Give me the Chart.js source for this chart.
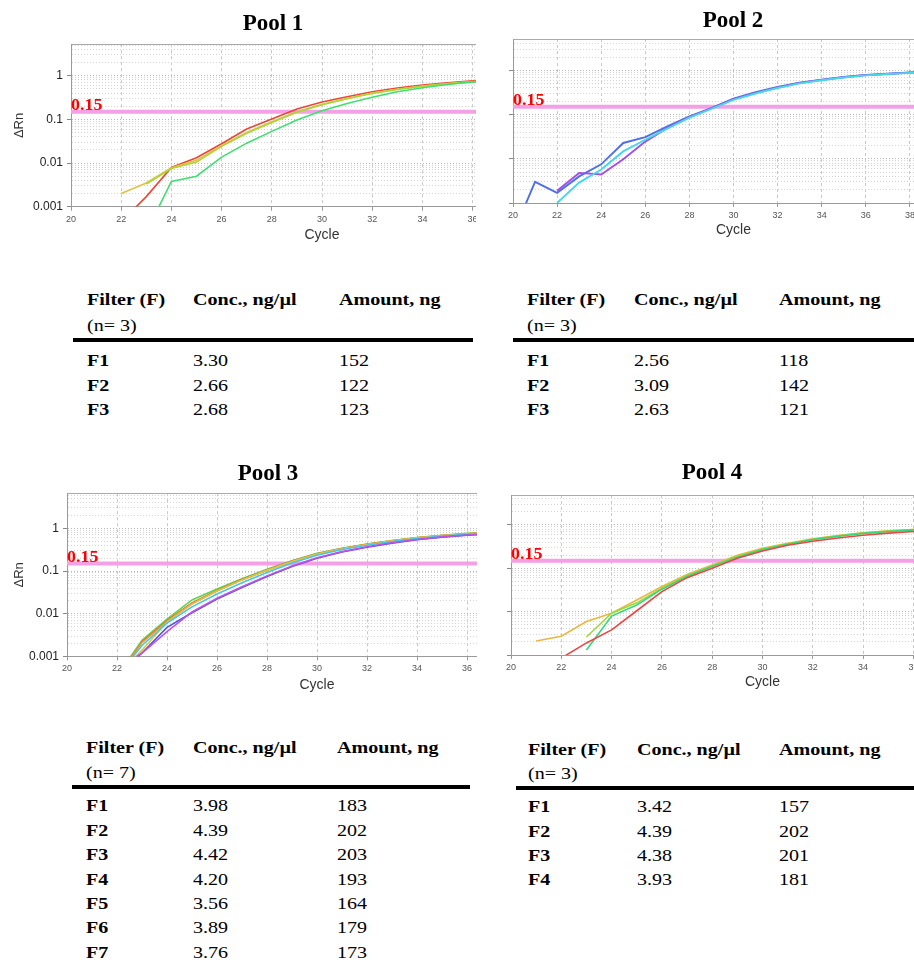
<!DOCTYPE html>
<html><head><meta charset="utf-8">
<script src="https://cdn.jsdelivr.net/npm/chart.js@4.4.1/dist/chart.umd.min.js"></script>
<style>
html,body{margin:0;padding:0;background:#fff;}
body{width:914px;height:965px;overflow:hidden;position:relative;}
.panel{position:absolute;overflow:hidden;}
.panel canvas{position:absolute;}
.title{position:absolute;width:200px;text-align:center;font:bold 23px 'Liberation Serif','Times New Roman',serif;line-height:23px;color:#000;white-space:nowrap;}
.cell{position:absolute;font:17px 'Liberation Serif','Times New Roman',serif;line-height:17px;color:#000;white-space:nowrap;transform:scaleX(1.18);transform-origin:0 0;}
.b{font-weight:bold;}
.rule{position:absolute;height:4px;background:#000;}
</style></head><body>
<script>
// ---------------- DATA ----------------
const cycles = [20,21,22,23,24,25,26,27,28,29,30,31,32,33,34,35,36,37,38,39];
const threshold = 0.15;
const thresholdText = '0.15';
const poolTitles = ['Pool 1','Pool 2','Pool 3','Pool 4'];
const xAxisTitle = 'Cycle';
const yAxisTitle = '\u0394Rn';
const xMin = 20, xMax = 40, xStep = 2;
const yDecades = [0.001, 0.01, 0.1, 1];
const yDecadeLabels = ['0.001', '0.01', '0.1', '1'];

// Pool 1 (ΔRn per cycle, starting at cycle 20)
const p1Red    = [null,null,0.00045,0.0017,0.0079,0.0132,0.0276,0.060,0.102,0.172,0.25,0.33,0.43,0.52,0.61,0.69,0.76,0.80];
const p1Yellow = [null,null,0.0020,0.0035,0.0078,0.0115,0.025,0.050,0.088,0.150,0.22,0.30,0.40,0.49,0.58,0.66,0.73,0.77];
const p1Lime   = [null,null,null,0.0033,0.0075,0.0105,0.024,0.048,0.085,0.145,0.215,0.295,0.39,0.48,0.57,0.65,0.72,0.76];
const p1Green  = [null,null,null,0.00026,0.0038,0.0050,0.0137,0.0285,0.053,0.097,0.158,0.23,0.32,0.43,0.53,0.63,0.72,0.76];

// Pool 2
const p2Blue   = [0.0002,0.003,0.0017,0.0040,0.0075,0.0228,0.031,0.054,0.091,0.14,0.23,0.32,0.42,0.53,0.62,0.71,0.79,0.84,0.90,0.93];
const p2Purple = [null,null,0.0019,0.0048,0.0044,0.0098,0.0245,0.050,0.088,0.14,0.225,0.31,0.41,0.52,0.61,0.70,0.78,0.83,0.89,0.92];
const p2Cyan   = [null,null,0.0010,0.0029,0.0057,0.0147,0.027,0.048,0.085,0.135,0.215,0.30,0.40,0.51,0.60,0.69,0.77,0.83,0.88,0.91];

// Pool 3
const p3Green  = [null,null,0.00034,0.0024,0.0075,0.021,0.038,0.066,0.11,0.175,0.26,0.34,0.43,0.52,0.61,0.69,0.77,0.82];
const p3Red    = [null,null,0.00031,0.0022,0.0069,0.0180,0.035,0.063,0.106,0.171,0.255,0.335,0.425,0.51,0.60,0.68,0.75,0.80];
const p3Orange = [null,null,0.00032,0.0021,0.0066,0.0172,0.034,0.062,0.104,0.168,0.25,0.33,0.42,0.50,0.59,0.67,0.74,0.79];
const p3Yellow = [null,null,0.00036,0.0014,0.0064,0.0168,0.034,0.062,0.104,0.168,0.25,0.33,0.42,0.51,0.60,0.68,0.75,0.80];
const p3Cyan   = [null,null,0.00034,0.0018,0.0060,0.0145,0.029,0.053,0.092,0.155,0.235,0.32,0.40,0.49,0.58,0.66,0.73,0.78];
const p3Blue   = [null,null,0.00035,0.0012,0.0048,0.0105,0.022,0.041,0.074,0.128,0.20,0.28,0.36,0.45,0.54,0.62,0.69,0.74];
const p3Purple = [null,null,0.00048,0.0012,0.0038,0.0110,0.023,0.043,0.077,0.132,0.205,0.285,0.37,0.46,0.55,0.63,0.70,0.75];

// Pool 4
const p4Yellow = [null,0.0021,0.0027,0.0059,0.0092,0.0186,0.038,0.072,0.12,0.20,0.29,0.38,0.48,0.57,0.66,0.73,0.79,0.83];
const p4Lime   = [null,null,null,0.0026,0.0092,0.016,0.035,0.068,0.115,0.19,0.28,0.37,0.47,0.56,0.65,0.72,0.78,0.82];
const p4Green  = [null,null,null,0.0013,0.0079,0.0143,0.033,0.065,0.11,0.18,0.27,0.36,0.46,0.55,0.64,0.71,0.77,0.81];
const p4Red    = [null,null,0.00085,0.0019,0.0038,0.0105,0.029,0.061,0.10,0.17,0.25,0.34,0.42,0.50,0.58,0.65,0.71,0.76];

// Tables
const tableHeaders = ['Filter (F)', 'Conc., ng/\u00b5l', 'Amount, ng'];
const p1N = 3;
const p1Filters = ['F1','F2','F3'];
const p1Conc = [3.30, 2.66, 2.68];
const p1Amount = [152, 122, 123];
const p2N = 3;
const p2Filters = ['F1','F2','F3'];
const p2Conc = [2.56, 3.09, 2.63];
const p2Amount = [118, 142, 121];
const p3N = 7;
const p3Filters = ['F1','F2','F3','F4','F5','F6','F7'];
const p3Conc = [3.98, 4.39, 4.42, 4.20, 3.56, 3.89, 3.76];
const p3Amount = [183, 202, 203, 193, 164, 179, 173];
const p4N = 3;
const p4Filters = ['F1','F2','F3','F4'];
const p4Conc = [3.42, 4.39, 4.38, 3.93];
const p4Amount = [157, 202, 201, 181];

// ---------------- RENDERING ----------------
function isDecade(v) {
  const l = Math.log10(v);
  return Math.abs(l - Math.round(l)) < 1e-6;
}
function gridTickValues(yMax) {
  const out = [];
  yDecades.forEach(d => { for (let m = 1; m <= 9; m++) { const v = +(d * m).toPrecision(6); if (v <= yMax) out.push(v); } });
  return out;
}
function toPoints(series) {
  return cycles.map((c, i) => ({x: c, y: series[i]})).filter(p => p.y !== null && p.y !== undefined);
}

const thresholdLabelPlugin = {
  id: 'thresholdLabel',
  afterDatasetsDraw(chart) {
    const {ctx, chartArea, scales} = chart;
    const y = scales.y.getPixelForValue(threshold);
    ctx.save();
    ctx.font = 'bold 16px "Liberation Serif", "Times New Roman", serif';
    ctx.fillStyle = '#ff0000';
    ctx.textAlign = 'left';
    ctx.textBaseline = 'alphabetic';
    ctx.translate(chartArea.left, y - 2);
    ctx.scale(1.12, 1);
    ctx.fillText(thresholdText, 0, 0);
    ctx.restore();
  }
};

function makePanel(cfg) {
  const panel = document.createElement('div');
  panel.className = 'panel';
  panel.style.left = cfg.clip[0] + 'px';
  panel.style.top = cfg.clip[1] + 'px';
  panel.style.width = (cfg.clip[2] - cfg.clip[0]) + 'px';
  panel.style.height = (cfg.clip[3] - cfg.clip[1]) + 'px';
  document.body.appendChild(panel);

  const padTop = 10;
  const Wy = cfg.showY ? cfg.left : 12;
  const plotW = (xMax - xMin) * cfg.px;
  const width = Math.ceil(Wy + plotW + 10);
  const padRight = width - Wy - plotW;
  const Hwanted = cfg.titleY - cfg.bottom + 8.4;
  const height = Math.ceil(padTop + (cfg.bottom - cfg.top) + Hwanted);
  const H = height - padTop - (cfg.bottom - cfg.top);
  const canvasLeft = cfg.left - Wy;
  const canvasTop = cfg.top - padTop;

  const cv = document.createElement('canvas');
  cv.width = width; cv.height = height;
  cv.style.width = width + 'px'; cv.style.height = height + 'px';
  cv.style.left = (canvasLeft - cfg.clip[0]) + 'px';
  cv.style.top = (canvasTop - cfg.clip[1]) + 'px';
  panel.appendChild(cv);

  const datasets = cfg.series.map(s => ({
    data: toPoints(s.data), borderColor: s.color, borderWidth: cfg.lw,
    pointRadius: 0, tension: 0, fill: false, order: 0
  }));
  datasets.push({
    data: [{x: xMin, y: threshold}, {x: xMax, y: threshold}],
    borderColor: '#f3a0e6', borderWidth: 4, pointRadius: 0, fill: false, order: 10
  });

  const yTicks = gridTickValues(cfg.yMax);

  new Chart(cv, {
    type: 'line',
    data: {datasets},
    plugins: [thresholdLabelPlugin],
    options: {
      responsive: false, animation: false, devicePixelRatio: 1, events: [],
      layout: {padding: {left: 0, right: padRight, top: padTop, bottom: 0}},
      plugins: {legend: {display: false}, tooltip: {enabled: false}, title: {display: false}},
      scales: {
        x: {
          type: 'linear', position: 'bottom', min: xMin, max: xMax,
          ticks: {stepSize: xStep, autoSkip: false, maxRotation: 0, color: '#555', padding: 3,
                  font: {family: "'Liberation Sans', Arial, sans-serif", size: 9}},
          grid: {color: '#c8c8c8', lineWidth: 1, tickLength: 4, tickColor: '#999'},
          border: {display: true, color: '#9a9a9a', width: 1, dash: [3, 3]},
          title: {display: true, text: xAxisTitle, color: '#333', padding: {top: 0, bottom: 0},
                  font: {family: "'Liberation Sans', Arial, sans-serif", size: 14}},
          afterFit(s) { s.height = H; }
        },
        xTop: {
          type: 'linear', position: 'top', min: xMin, max: xMax,
          ticks: {display: false}, grid: {display: false, drawTicks: false},
          border: {display: true, color: '#aaaaaa', width: 1},
          afterFit(s) { s.height = 0; }
        },
        y: {
          type: 'logarithmic', position: 'left', min: yDecades[0], max: cfg.yMax,
          afterBuildTicks(s) { s.ticks = yTicks.map(v => ({value: v})); },
          ticks: {
            display: cfg.showY, autoSkip: false, color: '#222', padding: 4,
            font: {family: "'Liberation Sans', Arial, sans-serif", size: 12},
            callback(v) {
              const i = yDecades.findIndex(d => Math.abs(d - v) / d < 1e-6);
              return i >= 0 ? yDecadeLabels[i] : '';
            }
          },
          grid: {
            lineWidth: 1, tickLength: 4,
            color: c => (c.tick && isDecade(c.tick.value)) ? '#b8b8b8' : '#d4d4d4',
            tickColor: c => (c.tick && isDecade(c.tick.value)) ? '#888' : 'rgba(0,0,0,0)'
          },
          border: {display: true, color: '#9a9a9a', width: 1, dash: [1, 2]},
          title: {display: cfg.showY, text: yAxisTitle, color: '#333', padding: {top: 11.4, bottom: 0},
                  font: {family: "'Liberation Sans', Arial, sans-serif", size: 13}},
          afterFit(s) { s.width = Wy; }
        }
      }
    }
  });
}

function makeTitle(text, cx, baseline) {
  const d = document.createElement('div');
  d.className = 'title';
  d.textContent = text;
  d.style.left = (cx - 100) + 'px';
  d.style.top = (baseline - 19.26) + 'px';
  document.body.appendChild(d);
}

function cell(text, x, baseline, bold) {
  const d = document.createElement('div');
  d.className = 'cell' + (bold ? ' b' : '');
  d.textContent = text;
  d.style.left = x + 'px';
  d.style.top = (baseline - 14.24) + 'px';
  document.body.appendChild(d);
}

function makeTable(t, n, filters, conc, amount) {
  tableHeaders.forEach((h, i) => cell(h, t.cols[i], t.headBase, true));
  cell('(n= ' + n + ')', t.cols[0], t.nBase, false);
  const r = document.createElement('div');
  r.className = 'rule';
  r.style.left = t.rule[0] + 'px';
  r.style.width = (t.rule[1] - t.rule[0]) + 'px';
  r.style.top = t.ruleTop + 'px';
  document.body.appendChild(r);
  filters.forEach((f, i) => {
    const b = t.rowBase + i * t.step;
    cell(f, t.cols[0], b, true);
    cell(conc[i].toFixed(2), t.cols[1], b, false);
    cell(String(amount[i]), t.cols[2], b, false);
  });
}

// Pool 1
makePanel({clip: [0, 0, 476, 255], left: 71, top: 43, bottom: 206.7, px: 25.1, yMax: 5.25, titleY: 235.3, showY: true, lw: 1.6,
  series: [{data: p1Green, color: '#3ee070'}, {data: p1Lime, color: '#a8d838'}, {data: p1Yellow, color: '#e6c040'}, {data: p1Red, color: '#f04434'}]});
// Pool 2
makePanel({clip: [505, 0, 914, 255], left: 513, top: 39.3, bottom: 203.3, px: 22.05, yMax: 5.13, titleY: 230, showY: false, lw: 1.9,
  series: [{data: p2Cyan, color: '#44d8ea'}, {data: p2Purple, color: '#a14fe6'}, {data: p2Blue, color: '#4f6fe6'}]});
// Pool 3
makePanel({clip: [0, 455, 477, 710], left: 67, top: 492.3, bottom: 656.7, px: 25, yMax: 6.66, titleY: 685, showY: true, lw: 1.6,
  series: [{data: p3Purple, color: '#c052e6'}, {data: p3Blue, color: '#4a55e4'}, {data: p3Cyan, color: '#44c8e6'},
           {data: p3Yellow, color: '#dcc448'}, {data: p3Orange, color: '#f09a30'}, {data: p3Red, color: '#e85830'}, {data: p3Green, color: '#58d850'}]});
// Pool 4
makePanel({clip: [505, 455, 914, 710], left: 511, top: 495, bottom: 655, px: 25.15, yMax: 4.92, titleY: 682.3, showY: false, lw: 1.6,
  series: [{data: p4Red, color: '#f04444'}, {data: p4Green, color: '#34d87c'}, {data: p4Lime, color: '#9ed83c'}, {data: p4Yellow, color: '#e8b840'}]});

makeTitle(poolTitles[0], 273, 30);
makeTitle(poolTitles[1], 733, 27.3);
makeTitle(poolTitles[2], 268, 480);
makeTitle(poolTitles[3], 712, 479.3);

makeTable({cols: [86.7, 193.3, 339.3], rule: [73, 473], headBase: 305, nBase: 331.5, ruleTop: 338, rowBase: 366.7, step: 24.3}, p1N, p1Filters, p1Conc, p1Amount);
makeTable({cols: [527.3, 634, 779.3], rule: [513, 914], headBase: 305, nBase: 331.5, ruleTop: 338, rowBase: 366.7, step: 24.3}, p2N, p2Filters, p2Conc, p2Amount);
makeTable({cols: [86, 192.7, 336.7], rule: [71.7, 470], headBase: 753.3, nBase: 778.3, ruleTop: 785, rowBase: 811.7, step: 24.35}, p3N, p3Filters, p3Conc, p3Amount);
makeTable({cols: [528, 636.7, 779], rule: [516, 914], headBase: 755, nBase: 779.3, ruleTop: 786, rowBase: 812.7, step: 24.3}, p4N, p4Filters, p4Conc, p4Amount);
</script>
</body></html>
